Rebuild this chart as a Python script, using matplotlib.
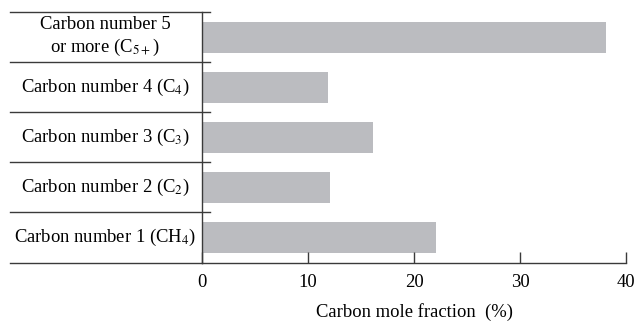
import matplotlib
matplotlib.use('Agg')
import matplotlib.pyplot as plt
import matplotlib.transforms as mtransforms

plt.rcParams['font.family'] = ['Liberation Serif', 'DejaVu Serif']
plt.rcParams['mathtext.fontset'] = 'stix'

# data (bottom to top)
labels = ["Carbon number 1 (CH$_4$)",
          "Carbon number 2 (C$_2$)",
          "Carbon number 3 (C$_3$)",
          "Carbon number 4 (C$_4$)",
          "Carbon number 5\nor more (C$_{5+}$)"]
values = [22.1, 12.1, 16.15, 11.9, 38.15]
xticks = [0, 10, 20, 30, 40]

line_color = '#3a3a3a'
bar_color = '#bbbcc0'
fs = 13.4

fig = plt.figure(figsize=(6.35, 3.22), dpi=100)
ax = fig.add_axes([202/635, 1 - 262.5/322, 424/635, 250.5/322])

ypos = list(range(len(values)))
ax.barh(ypos, values, height=0.62, color=bar_color, edgecolor='none')

ax.set_xlim(0, 40)
ax.set_ylim(-0.5, len(values) - 0.5)
ax.set_xticks(xticks)
ax.set_yticks([])
ax.tick_params(axis='x', direction='in', length=8, width=1.0, color=line_color,
               labelsize=fs, pad=8)
for s in ['top', 'right']:
    ax.spines[s].set_visible(False)
for s in ['left', 'bottom']:
    ax.spines[s].set_color(line_color)
    ax.spines[s].set_linewidth(1.0)

# table-like row separators on the left
trans = mtransforms.blended_transform_factory(ax.transAxes, ax.transData)
x_left = (10 - 202) / 424
x_right = 8 / 424
for i in range(len(values)):
    yb = i + 0.5
    ax.plot([x_left, x_right], [yb, yb], color=line_color, lw=1.0,
            transform=trans, clip_on=False)
ax.plot([x_left, 0], [-0.5, -0.5], color=line_color, lw=1.0,
        transform=trans, clip_on=False)

x_text = (105 - 202) / 424
for i, lab in enumerate(labels):
    ax.text(x_text, i, lab, transform=trans, ha='center', va='center',
            fontsize=fs, linespacing=1.25)

ax.set_xlabel("Carbon mole fraction  (%)", fontsize=fs, labelpad=9)

fig.savefig('out.png', dpi=100, facecolor='white')
